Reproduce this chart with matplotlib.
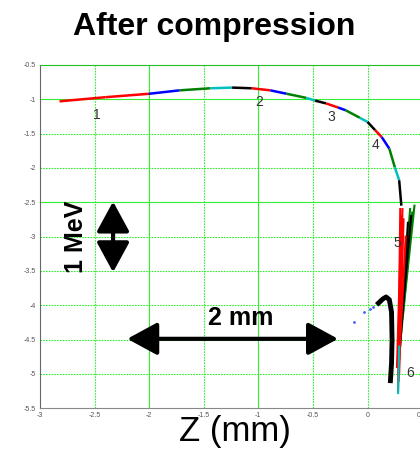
import matplotlib
matplotlib.use("Agg")
from matplotlib import pyplot as plt

plt.rcParams["font.family"] = ["Liberation Sans", "DejaVu Sans"]

# main trajectory vertices (Z in mm, energy offset in MeV) and colour of each edge
curve_z = [-2.82, -2.4, -2.0, -1.72, -1.44, -1.24, -1.06, -0.89, -0.74, -0.56, -0.48,
           -0.38, -0.27, -0.2, -0.07, 0.0, 0.07, 0.13, 0.2, 0.25, 0.29, 0.31]
curve_e = [-1.03, -0.97, -0.92, -0.87, -0.84, -0.83, -0.84, -0.87, -0.92, -0.98, -1.02,
           -1.06, -1.12, -1.16, -1.27, -1.33, -1.45, -1.55, -1.72, -1.99, -2.18, -2.55]
edge_colors = ["r", "r", "b", "g", "c", "k", "r", "b", "g", "c",
               "k", "r", "b", "g", "c", "k", "r", "b", "g", "c", "k"]

# streaks of the spread-out bunch below point 5: z0, e0, z1, e1, colour
streak_z0 = [0.30, 0.32, 0.31, 0.33, 0.39, 0.41, 0.43, 0.37, 0.40, 0.35, 0.29]
streak_e0 = [-2.60, -2.60, -2.70, -2.75, -2.60, -2.65, -2.55, -2.80, -2.70, -3.00, -4.60]
streak_z1 = [0.28, 0.285, 0.27, 0.29, 0.30, 0.31, 0.32, 0.30, 0.31, 0.29, 0.28]
streak_e1 = [-5.25, -5.10, -4.90, -5.00, -4.50, -4.40, -4.20, -4.60, -4.30, -4.80, -5.28]
streak_col = ["r", "r", "r", "r", "g", "g", "g", "k", "k", "r", "c"]

# black hook on the left of the bunch
hook_z = [0.10, 0.14, 0.17, 0.20, 0.22, 0.225, 0.22, 0.21]
hook_e = [-3.97, -3.91, -3.88, -3.92, -4.10, -4.50, -4.85, -5.10]

# stray blue particles
dots_z = [0.05, 0.02, -0.03, -0.12]
dots_e = [-4.03, -4.06, -4.10, -4.25]

# numbered positions along the beam
mark_z = [-2.48, -0.99, -0.33, 0.07, 0.27, 0.39]
mark_e = [-1.23, -1.04, -1.26, -1.67, -3.10, -4.99]
mark_txt = ["1", "2", "3", "4", "5", "6"]

xticks = [-3, -2.5, -2, -1.5, -1, -0.5, 0, 0.5]
yticks = [-0.5, -1, -1.5, -2, -2.5, -3, -3.5, -4, -4.5, -5, -5.5]

fig = plt.figure(figsize=(4.2, 4.51), dpi=100)
ax = fig.add_axes([0.095, 0.095, 0.91, 0.761])
ax.set_xlim(-3, 0.5)
ax.set_ylim(-5.5, -0.5)

# grid
solid_x = [-2, -1]
solid_y = [-1, -2.5]
for x in xticks[1:]:
    ax.axvline(x, color="#33ee33", lw=0.8, ls="-" if x in solid_x else (0, (1.5, 1)), zorder=0)
for y in yticks[1:-1]:
    ax.axhline(y, color="#33ee33", lw=0.8, ls="-" if y in solid_y else (0, (1.5, 1)), zorder=0)

for i in range(len(curve_z) - 1):
    ax.plot(curve_z[i:i + 2], curve_e[i:i + 2], color=edge_colors[i], lw=1.8,
            solid_capstyle="butt")

for i in range(len(streak_z0)):
    ax.plot([streak_z0[i], streak_z1[i]], [streak_e0[i], streak_e1[i]],
            color=streak_col[i], lw=1.5)

ax.plot(hook_z, hook_e, color="k", lw=3.5)
ax.scatter(dots_z, dots_e, s=1, color="#4060ff")

for z, e, t in zip(mark_z, mark_e, mark_txt):
    ax.text(z, e, t, fontsize=10, color="#333333", ha="center", va="center")

# scale arrows
arrow_style = dict(arrowstyle="<|-|>,head_length=0.92,head_width=0.5",
                   lw=3, color="k", mutation_scale=20, shrinkA=0, shrinkB=0)
ax.annotate("", xy=(-2.33, -2.49), xytext=(-2.33, -3.52), arrowprops=arrow_style)
ax.annotate("", xy=(-0.27, -4.49), xytext=(-2.2, -4.49), arrowprops=arrow_style)
ax.text(-2.67, -3.0, "1 MeV", rotation=90, fontsize=18, fontweight="bold",
        ha="center", va="center")
ax.text(-1.16, -4.18, "2 mm", fontsize=18, fontweight="bold", ha="center", va="center")

ax.set_xticks(xticks)
ax.set_yticks(yticks)
ax.set_xticklabels([("%g" % v) for v in xticks])
ax.set_yticklabels([("%g" % v) for v in yticks])
ax.tick_params(labelsize=5, colors="#555555", length=0, pad=3)
ax.spines["right"].set_visible(False)
ax.spines["top"].set_color("#22c022")
ax.spines["left"].set_color("#666666")
ax.spines["bottom"].set_color("#888888")

fig.text(0.51, 0.94, "After compression", fontsize=23, fontweight="bold",
         ha="center", va="center")
fig.text(0.56, 0.044, "Z (mm)", fontsize=25, ha="center", va="center")

fig.savefig("out.png", dpi=100)
